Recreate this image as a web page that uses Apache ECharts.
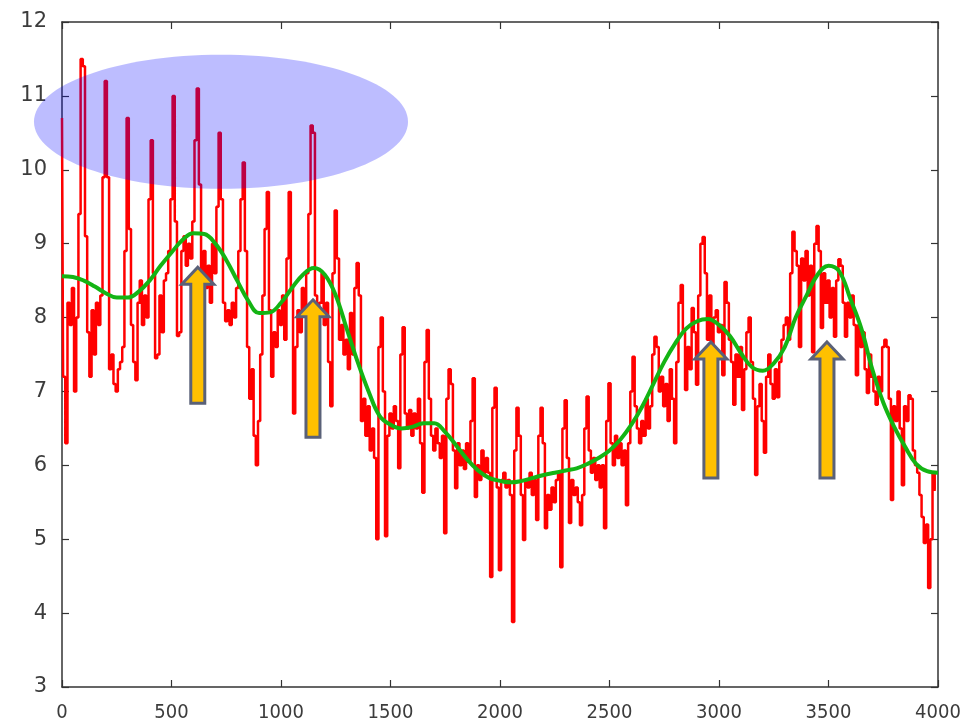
<!DOCTYPE html>
<html><head><meta charset="utf-8">
<script src="https://cdn.jsdelivr.net/npm/echarts@6/dist/echarts.min.js"></script>
<style>html,body{margin:0;padding:0;background:#fff}#c{width:969px;height:728px}</style>
</head><body><div id="c"></div>
<script>
// ---- data ----
const xTickLabels = [0, 500, 1000, 1500, 2000, 2500, 3000, 3500, 4000];
const yTickLabels = [3, 4, 5, 6, 7, 8, 9, 10, 11, 12];
const RED_STEP = 10;      // x spacing of the raw (red) samples
const redValues = [
  10.7, 7.2, 6.3, 8.2, 7.9, 8.4, 7.0, 8.0, 9.4, 11.5,
  11.4, 9.1, 7.8, 7.2, 8.1, 7.5, 8.2, 7.9, 8.3, 9.9,
  11.2, 9.9, 7.3, 7.5, 7.1, 7.0, 7.3, 7.4, 7.6, 8.9,
  10.7, 9.2, 7.9, 7.4, 7.15, 8.2, 8.5, 7.9, 8.3, 8.0,
  9.6, 10.4, 8.6, 7.45, 7.5, 8.3, 7.8, 8.5, 8.6, 8.9,
  9.6, 11.0, 9.3, 7.75, 7.8, 8.9, 9.1, 8.7, 9.0, 8.8,
  9.3, 10.4, 11.1, 9.8, 8.5, 8.9, 8.4, 8.7, 8.2, 9.0,
  8.6, 9.5, 10.5, 9.6, 8.2, 7.95, 8.1, 7.9, 8.2, 8.0,
  8.4, 8.9, 9.6, 10.1, 8.9, 7.6, 6.9, 7.3, 6.4, 6.0,
  6.6, 7.5, 8.3, 9.2, 9.7, 8.1, 7.2, 7.8, 7.6, 8.1,
  7.9, 8.3, 7.7, 8.8, 9.7, 8.4, 6.7, 7.6, 8.1, 7.8,
  8.4, 8.1, 8.6, 9.4, 10.6, 10.5, 8.3, 7.6, 8.2, 8.6,
  7.9, 8.2, 7.4, 6.8, 8.6, 9.45, 8.8, 7.7, 7.9, 7.5,
  7.7, 7.3, 8.06, 7.5, 8.4, 8.74, 8.3, 6.6, 6.9, 6.4,
  6.8, 6.2, 6.5, 6.1, 5.0, 7.6, 8.0, 7.0, 5.04, 6.4,
  6.7, 6.5, 6.8, 6.6, 5.96, 7.5, 7.87, 6.7, 6.5, 6.75,
  6.4, 6.7, 6.5, 6.9, 6.3, 5.63, 7.4, 7.83, 6.9, 6.4,
  6.2, 6.5, 6.3, 6.1, 6.4, 5.08, 6.9, 7.3, 7.1, 6.2,
  5.69, 6.3, 6.0, 6.2, 5.95, 6.3, 6.05, 6.6, 7.18, 5.57,
  6.0, 5.8, 6.2, 5.9, 6.1, 5.9, 4.49, 6.78, 7.05, 5.7,
  4.58, 5.8, 5.9, 5.7, 5.8, 5.6, 3.88, 6.2, 6.78, 6.4,
  5.6, 4.99, 5.8, 5.7, 5.9, 5.6, 5.8, 5.26, 6.4, 6.78,
  6.3, 5.15, 5.6, 5.4, 5.7, 5.5, 5.8, 5.9, 4.62, 6.5,
  6.88, 6.1, 5.22, 5.8, 5.6, 5.7, 5.5, 5.19, 5.6, 6.5,
  6.93, 6.2, 5.9, 6.1, 5.8, 6.0, 5.7, 6.0, 5.15, 6.6,
  7.11, 6.3, 6.0, 6.4, 6.1, 6.3, 6.0, 6.2, 5.46, 6.3,
  7.0, 7.47, 6.8, 6.5, 6.3, 6.6, 6.4, 6.9, 6.5, 6.8,
  7.5, 7.74, 7.6, 7.0, 7.2, 6.8, 7.1, 6.6, 7.3, 6.9,
  6.3, 7.4, 8.2, 8.44, 7.8, 7.02, 7.6, 7.3, 8.13, 7.8,
  7.09, 8.3, 9.0, 9.09, 8.6, 7.7, 8.3, 7.6, 8.0, 8.1,
  7.8, 7.9, 7.22, 8.48, 8.2, 7.7, 7.4, 6.82, 7.5, 7.2,
  7.6, 6.75, 7.3, 7.8, 8.0, 7.4, 6.9, 5.87, 6.8, 7.1,
  6.6, 6.17, 7.2, 7.5, 7.1, 6.9, 7.3, 6.92, 7.4, 7.7,
  7.9, 8.0, 7.7, 8.6, 9.16, 8.9, 8.7, 7.6, 8.8, 8.5,
  8.9, 8.3, 8.7, 7.53, 9.0, 9.24, 8.9, 7.86, 8.6, 8.2,
  8.5, 8.0, 8.4, 7.74, 8.5, 8.79, 8.7, 8.2, 7.74, 8.2,
  8.0, 8.3, 7.9, 7.22, 7.9, 7.6, 7.8, 7.3, 6.98, 7.5,
  7.2, 7.0, 6.82, 7.2, 7.0, 7.6, 7.7, 7.6, 6.9, 5.53,
  6.8, 6.6, 7.0, 6.5, 5.73, 6.8, 6.6, 6.95, 6.9, 6.2,
  6.0, 5.9, 5.6, 5.3, 4.95, 5.2, 4.34, 5.0, 5.9, 5.67
];
const GREEN_STEP = 50;    // x spacing of the smoothed (green) curve samples
const greenValues = [
  8.56, 8.55, 8.5, 8.42, 8.33, 8.27, 8.27, 8.35, 8.5, 8.7,
  8.88, 9.05, 9.14, 9.13, 9.0, 8.78, 8.5, 8.23, 8.06, 8.07,
  8.2, 8.4, 8.58, 8.67, 8.58, 8.3, 7.85, 7.4, 7.0, 6.67,
  6.55, 6.5, 6.52, 6.57, 6.57, 6.45, 6.27, 6.08, 5.93, 5.83,
  5.79, 5.77, 5.79, 5.83, 5.87, 5.9, 5.93, 5.96, 6.02, 6.1,
  6.2, 6.35, 6.55, 6.8, 7.1, 7.4, 7.65, 7.85, 7.95, 7.98,
  7.9, 7.75, 7.52, 7.33, 7.28, 7.38, 7.6, 8.0, 8.3, 8.58,
  8.7, 8.62, 8.25, 7.85, 7.3, 6.85, 6.52, 6.25, 6.02, 5.92,
  5.9
];
// annotation anchors (data coords): arrow x, tip value, tail value
const arrowX    = [620, 1146, 2963, 3493];
const arrowTip  = [8.68, 8.24, 7.67, 7.67];
const arrowTail = [6.84, 6.38, 5.83, 5.83];
// highlight ellipse (data coords): centre x, centre y, x radius, y radius
const ellipseSpec = [726, 10.65, 854, 0.907];

// ---- chart ----
const chart = echarts.init(document.getElementById('c'), null, {renderer: 'canvas'});
const redData = redValues.map((v, i) => [i * RED_STEP, v]);
const greenData = greenValues.map((v, i) => [i * GREEN_STEP, v]);

const xMin = xTickLabels[0], xMax = xTickLabels[xTickLabels.length - 1];
const yMin = yTickLabels[0], yMax = yTickLabels[yTickLabels.length - 1];
const axisCol = '#333';
const labelCol = '#3c3c3c';
function xAx(pos, showLabel) {
  return {
    type: 'value', position: pos, min: xMin, max: xMax, interval: xTickLabels[1] - xTickLabels[0],
    axisLine: {show: true, onZero: false, lineStyle: {color: axisCol, width: 1.5}},
    axisTick: {show: true, inside: true, length: 7, lineStyle: {color: axisCol, width: 1.2}},
    splitLine: {show: false},
    axisLabel: {show: showLabel, color: labelCol, fontSize: 20, margin: 16,
      formatter: v => String(v),
      fontFamily: "'DejaVu Sans Condensed','Liberation Sans Narrow','Roboto Condensed','Liberation Sans',sans-serif"}
  };
}
function yAx(pos, showLabel) {
  return {
    type: 'value', position: pos, min: yMin, max: yMax, interval: yTickLabels[1] - yTickLabels[0],
    axisLine: {show: true, onZero: false, lineStyle: {color: axisCol, width: 1.5}},
    axisTick: {show: true, inside: true, length: 7, lineStyle: {color: axisCol, width: 1.2}},
    splitLine: {show: false},
    axisLabel: {show: showLabel, color: labelCol, fontSize: 21, margin: 15,
      formatter: v => String(v),
      fontFamily: "'DejaVu Sans',sans-serif"}
  };
}

chart.setOption({
  animation: false,
  backgroundColor: '#ffffff',
  grid: {left: 62, right: 31, top: 22, bottom: 41, containLabel: false},
  xAxis: [xAx('bottom', true), xAx('top', false)],
  yAxis: [yAx('left', true), yAx('right', false)],
  series: [
    {
      type: 'line', name: 'raw', data: redData, step: 'middle',
      showSymbol: false, symbol: 'none', z: 2,
      lineStyle: {color: '#ff0000', width: 2.5}
    },
    {
      type: 'line', name: 'smooth', data: greenData, smooth: 0.4,
      showSymbol: false, symbol: 'none', z: 3,
      lineStyle: {color: '#14b414', width: 4}
    }
  ]
});

function px(x, y) { return chart.convertToPixel({xAxisIndex: 0, yAxisIndex: 0}, [x, y]); }
const graphics = [];
{
  const c = px(ellipseSpec[0], ellipseSpec[1]);
  const e = px(ellipseSpec[0] + ellipseSpec[2], ellipseSpec[1] + ellipseSpec[3]);
  graphics.push({
    type: 'ellipse', z: 50,
    shape: {cx: c[0], cy: c[1], rx: Math.abs(e[0] - c[0]), ry: Math.abs(c[1] - e[1])},
    style: {fill: 'rgba(0,0,255,0.26)'}
  });
}
const HEAD_HALF = 16, SHAFT_HALF = 7, HEAD_H = 17;
arrowX.forEach((ax, i) => {
  const t = px(ax, arrowTip[i]);
  const b = px(ax, arrowTail[i]);
  const cx = t[0], ty = t[1], by = b[1], hy = ty + HEAD_H;
  graphics.push({
    type: 'polygon', z: 60,
    shape: {points: [[cx, ty], [cx + HEAD_HALF, hy], [cx + SHAFT_HALF, hy], [cx + SHAFT_HALF, by],
                     [cx - SHAFT_HALF, by], [cx - SHAFT_HALF, hy], [cx - HEAD_HALF, hy]]},
    style: {fill: '#ffc000', stroke: '#5a6178', lineWidth: 3, lineJoin: 'miter'}
  });
});
chart.setOption({graphic: graphics});
</script>
</body></html>
